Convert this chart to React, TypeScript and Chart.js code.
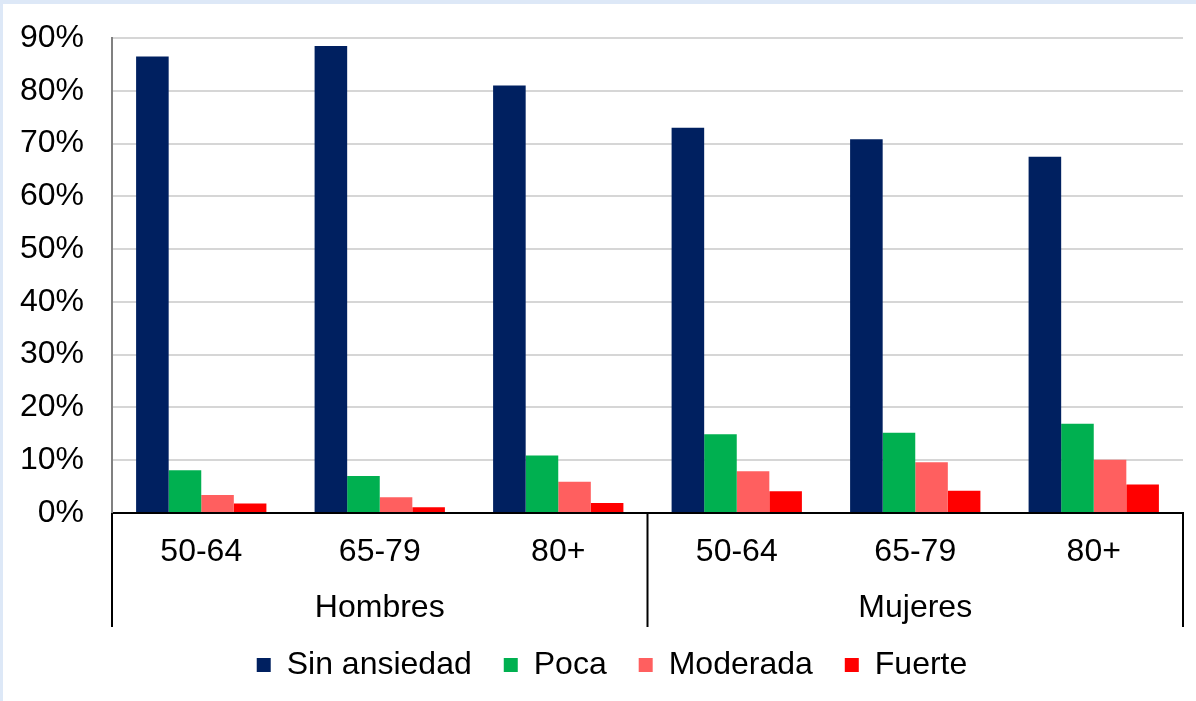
import React, { useEffect, useRef } from "react";
import { Chart, registerables } from "chart.js";

Chart.register(...registerables);

// Age bands (two per sex group) and the sex groups they belong to
const ageBands = ["50-64", "65-79", "80+", "50-64", "65-79", "80+"];
const sexGroups = ["Hombres", "Mujeres"];
const bandsPerGroup = 3;

// Share of people (%) in each anxiety level
const sinAnsiedad = [86.5, 88.5, 81.0, 73.0, 70.8, 67.5];
const poca = [8.1, 7.0, 10.9, 14.9, 15.2, 16.9];
const moderada = [3.4, 3.0, 5.9, 7.9, 9.6, 10.1];
const fuerte = [1.8, 1.1, 1.9, 4.1, 4.2, 5.4];

const seriesNames = ["Sin ansiedad", "Poca", "Moderada", "Fuerte"];
const seriesColors = ["#002060", "#00B050", "#FF5F5F", "#FF0000"];

const FONT = "'Liberation Sans', Arial, sans-serif";
const FONT_SIZE = 32;

// Draws the outer row of the x axis: sex group names and the divider lines
const groupAxisPlugin = {
  id: "groupAxis",
  afterLayout(chart: any) {
    // nudge the legend row a little to the right of the canvas centre
    if (chart.legend) {
      chart.legend.left += 19;
      chart.legend.right += 19;
    }
  },
  afterDraw(chart: any) {
    const xs = chart.scales.x;
    const { ctx, chartArea } = chart;
    const top = xs.top;
    const bottom = xs.top + 114;
    const edges: number[] = [chartArea.left];
    for (let g = 1; g < sexGroups.length; g++) {
      const a = xs.getPixelForValue(g * bandsPerGroup - 1);
      const b = xs.getPixelForValue(g * bandsPerGroup);
      edges.push((a + b) / 2);
    }
    edges.push(chartArea.right);
    ctx.save();
    ctx.strokeStyle = "#000";
    ctx.lineWidth = 2;
    edges.forEach((x) => {
      ctx.beginPath();
      ctx.moveTo(x, top);
      ctx.lineTo(x, bottom);
      ctx.stroke();
    });
    ctx.fillStyle = "#000";
    ctx.font = `${FONT_SIZE}px ${FONT}`;
    ctx.textAlign = "center";
    ctx.textBaseline = "middle";
    sexGroups.forEach((name, g) => {
      ctx.fillText(name, (edges[g] + edges[g + 1]) / 2, top + 95);
    });
    ctx.restore();
  },
};

export default function App() {
  const canvasRef = useRef<HTMLCanvasElement | null>(null);

  useEffect(() => {
    const canvas = canvasRef.current;
    if (!canvas) return;
    const chart = new Chart(canvas, {
      type: "bar",
      data: {
        labels: ageBands,
        datasets: [sinAnsiedad, poca, moderada, fuerte].map((values, i) => ({
          label: seriesNames[i],
          data: values,
          backgroundColor: seriesColors[i],
          borderWidth: 0,
          categoryPercentage: 0.73,
          barPercentage: 1,
        })),
      },
      options: {
        responsive: false,
        animation: false,
        layout: { padding: { top: 34, right: 13, left: 0, bottom: 10 } },
        plugins: {
          tooltip: { enabled: false },
          legend: {
            position: "bottom",
            labels: {
              boxWidth: 14,
              boxHeight: 14,
              padding: 32,
              color: "#000",
              font: { family: FONT, size: FONT_SIZE },
            },
          },
        },
        scales: {
          x: {
            grid: { display: false, drawTicks: false },
            border: { display: true, color: "#000", width: 2 },
            ticks: {
              color: "#000",
              padding: 20,
              maxRotation: 0,
              autoSkip: false,
              font: { family: FONT, size: FONT_SIZE },
            },
            afterFit(scale: any) {
              scale.height = 104;
            },
          },
          y: {
            min: 0,
            max: 90,
            grid: { color: "#d6d6d6", lineWidth: 2, drawTicks: false },
            border: { display: true, color: "#808080", width: 2 },
            ticks: {
              stepSize: 10,
              color: "#000",
              padding: 28,
              font: { family: FONT, size: FONT_SIZE },
              callback: (v: any) => `${v}%`,
            },
            afterFit(scale: any) {
              scale.width = 109;
              scale.paddingTop = 0;
              scale.paddingBottom = 0;
            },
          },
        },
      },
      plugins: [groupAxisPlugin],
    });
    return () => chart.destroy();
  }, []);

  return (
    <div
      style={{
        position: "fixed",
        left: 0,
        top: 0,
        width: 1196,
        height: 701,
        background: "#dde8f7",
        overflow: "hidden",
      }}
    >
      <canvas
        ref={canvasRef}
        width={1193}
        height={697}
        style={{ position: "absolute", left: 3, top: 4, background: "#fff" }}
      />
    </div>
  );
}
